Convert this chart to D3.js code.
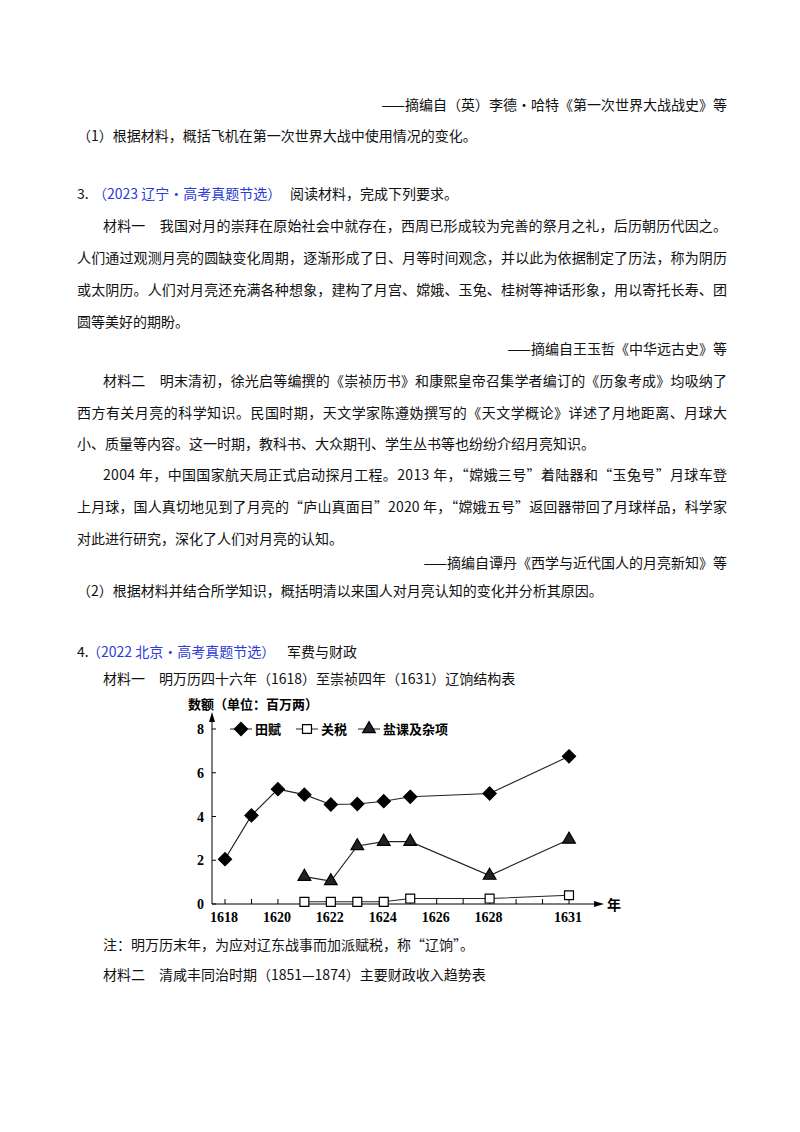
<!DOCTYPE html>
<html><head><meta charset="utf-8">
<script src="https://cdn.jsdelivr.net/npm/d3@7"></script>
<style>body{margin:0;background:#fff}text{font-family:"Noto Sans CJK SC","Noto Sans CJK JP",serif}</style>
</head><body>
<svg id="page" width="800" height="1132"></svg>
<script>
// chart data (millions of taels)
const years     = [1618, 1620, 1622, 1624, 1626, 1628, 1631];
const yTicks    = [0, 2, 4, 6, 8];
const tianfuX   = [1618, 1619, 1620, 1621, 1622, 1623, 1624, 1625, 1628, 1631];
const tianfuY   = [2.05, 4.05, 5.25, 5.0, 4.55, 4.57, 4.7, 4.9, 5.05, 6.75];
const guanshuiX = [1621, 1622, 1623, 1624, 1625, 1628, 1631];
const guanshuiY = [0.1, 0.1, 0.1, 0.1, 0.25, 0.25, 0.4];
const yankeX    = [1621, 1622, 1623, 1624, 1625, 1628, 1631];
const yankeY    = [1.25, 1.05, 2.65, 2.85, 2.85, 1.3, 2.95];

const svg = d3.select('#page');

// page text: [x, y, text, justifyWidth or 0 (-1 = right aligned), color]
const lines = [
	[727, 110, '——摘编自（英）李德·哈特《第一次世界大战战史》等', -1],
	[77, 141, '（1）根据材料，概括飞机在第一次世界大战中使用情况的变化。', 0],
	[77, 199, '3.', 0],
	[93, 199, '（2023 辽宁·高考真题节选）', 0, '#2b3bd6'],
	[290, 199, '阅读材料，完成下列要求。', 0],
	[103, 231, '材料一　我国对月的崇拜在原始社会中就存在，西周已形成较为完善的祭月之礼，后历朝历代因之。', 624],
	[77, 263, '人们通过观测月亮的圆缺变化周期，逐渐形成了日、月等时间观念，并以此为依据制定了历法，称为阴历', 650],
	[77, 295, '或太阴历。人们对月亮还充满各种想象，建构了月宫、嫦娥、玉兔、桂树等神话形象，用以寄托长寿、团', 650],
	[77, 327, '圆等美好的期盼。', 0],
	[727, 354, '——摘编自王玉哲《中华远古史》等', -1],
	[103, 386, '材料二　明末清初，徐光启等编撰的《崇祯历书》和康熙皇帝召集学者编订的《历象考成》均吸纳了', 624],
	[77, 418, '西方有关月亮的科学知识。民国时期，天文学家陈遵妫撰写的《天文学概论》详述了月地距离、月球大', 650],
	[77, 449, '小、质量等内容。这一时期，教科书、大众期刊、学生丛书等也纷纷介绍月亮知识。', 0],
	[103, 480, '2004 年，中国国家航天局正式启动探月工程。2013 年，“嫦娥三号”着陆器和“玉兔号”月球车登', 624],
	[77, 512, '上月球，国人真切地见到了月亮的“庐山真面目”2020 年，“嫦娥五号”返回器带回了月球样品，科学家', 650],
	[77, 544, '对此进行研究，深化了人们对月亮的认知。', 0],
	[727, 568, '——摘编自谭丹《西学与近代国人的月亮新知》等', -1],
	[77, 596, '（2）根据材料并结合所学知识，概括明清以来国人对月亮认知的变化并分析其原因。', 0],
	[77, 657, '4.', 0],
	[87, 657, '（2022 北京·高考真题节选）', 0, '#2b3bd6'],
	[287, 657, '军费与财政', 0],
	[103, 684, '材料一　明万历四十六年（1618）至崇祯四年（1631）辽饷结构表', 0],
	[103, 950, '注：明万历末年，为应对辽东战事而加派赋税，称“辽饷”。', 0],
	[103, 980, '材料二　清咸丰同治时期（1851—1874）主要财政收入趋势表', 0]
];
lines.forEach(l => {
	const t = svg.append('text').attr('x', l[0]).attr('y', l[1])
		.attr('font-size', 14).attr('fill', l[4] || '#111').text(l[2]);
	if (l[3] > 0) t.attr('textLength', l[3]).attr('lengthAdjust', 'spacing');
	if (l[3] < 0) t.attr('text-anchor', 'end');
});

// chart
const x = d3.scaleLinear().domain([1618, 1631]).range([225, 569]);
const y = d3.scaleLinear().domain([0, 8]).range([904, 729]);
const axisX = 212;
const g = svg.append('g').attr('font-family', 'serif');

g.append('line').attr('x1', axisX).attr('x2', axisX).attr('y1', 904).attr('y2', 716).attr('stroke', '#000');
g.append('path').attr('d', `M${axisX - 3},722L${axisX},712L${axisX + 3},722Z`);
g.append('line').attr('x1', axisX).attr('x2', 598).attr('y1', 904).attr('y2', 904).attr('stroke', '#000');
g.append('path').attr('d', `M594,901L604,904L594,907Z`);
g.append('text').attr('x', 607).attr('y', 910).attr('font-size', 14).attr('font-weight', 'bold').text('年');
g.append('text').attr('x', 188).attr('y', 709).attr('font-size', 13).attr('font-weight', 'bold').text('数额（单位：百万两）');

yTicks.forEach(v => {
	g.append('line').attr('x1', axisX).attr('x2', axisX + 4).attr('y1', y(v)).attr('y2', y(v)).attr('stroke', '#000');
	g.append('text').attr('x', 204).attr('y', y(v) + 5).attr('text-anchor', 'end')
		.attr('font-size', 14).attr('font-weight', 'bold').style('font-family', 'Liberation Serif').text(v);
});
d3.range(1618, 1632).forEach(v => {
	g.append('line').attr('x1', x(v)).attr('x2', x(v)).attr('y1', 904).attr('y2', 899).attr('stroke', '#000');
});
years.forEach(v => {
	g.append('text').attr('x', x(v) - 1).attr('y', 922).attr('text-anchor', 'middle')
		.attr('font-size', 14).attr('font-weight', 'bold').style('font-family', 'Liberation Serif').text(v);
});

const line = d3.line();
const series = [
	{ xs : tianfuX, ys : tianfuY, sym : d3.symbolDiamond2, size : 110, fill : '#000' },
	{ xs : guanshuiX, ys : guanshuiY, sym : d3.symbolSquare, size : 80, fill : '#fff' },
	{ xs : yankeX, ys : yankeY, sym : d3.symbolTriangle, size : 70, fill : '#222' }
];
series.forEach(s => {
	const pts = s.xs.map((v, i) => [x(v), y(s.ys[i])]);
	g.append('path').attr('d', line(pts)).attr('fill', 'none').attr('stroke', '#222').attr('stroke-width', 1.1);
	g.selectAll(null).data(pts).enter().append('path')
		.attr('transform', d => `translate(${d[0]},${d[1]})`)
		.attr('d', d3.symbol(s.sym, s.size)).attr('fill', s.fill).attr('stroke', '#000').attr('stroke-width', 1.2);
});

// legend
const legend = [['田赋', 230], ['关税', 296], ['盐课及杂项', 358]];
legend.forEach((l, i) => {
	const s = series[i];
	g.append('line').attr('x1', l[1]).attr('x2', l[1] + 22).attr('y1', 729).attr('y2', 729).attr('stroke', '#222');
	g.append('path').attr('transform', `translate(${l[1] + 11},729)`)
		.attr('d', d3.symbol(s.sym, s.size)).attr('fill', s.fill).attr('stroke', '#000').attr('stroke-width', 1.2);
	g.append('text').attr('x', l[1] + 25).attr('y', 734).attr('font-size', 13).attr('font-weight', 'bold').text(l[0]);
});
</script>
</body></html>
